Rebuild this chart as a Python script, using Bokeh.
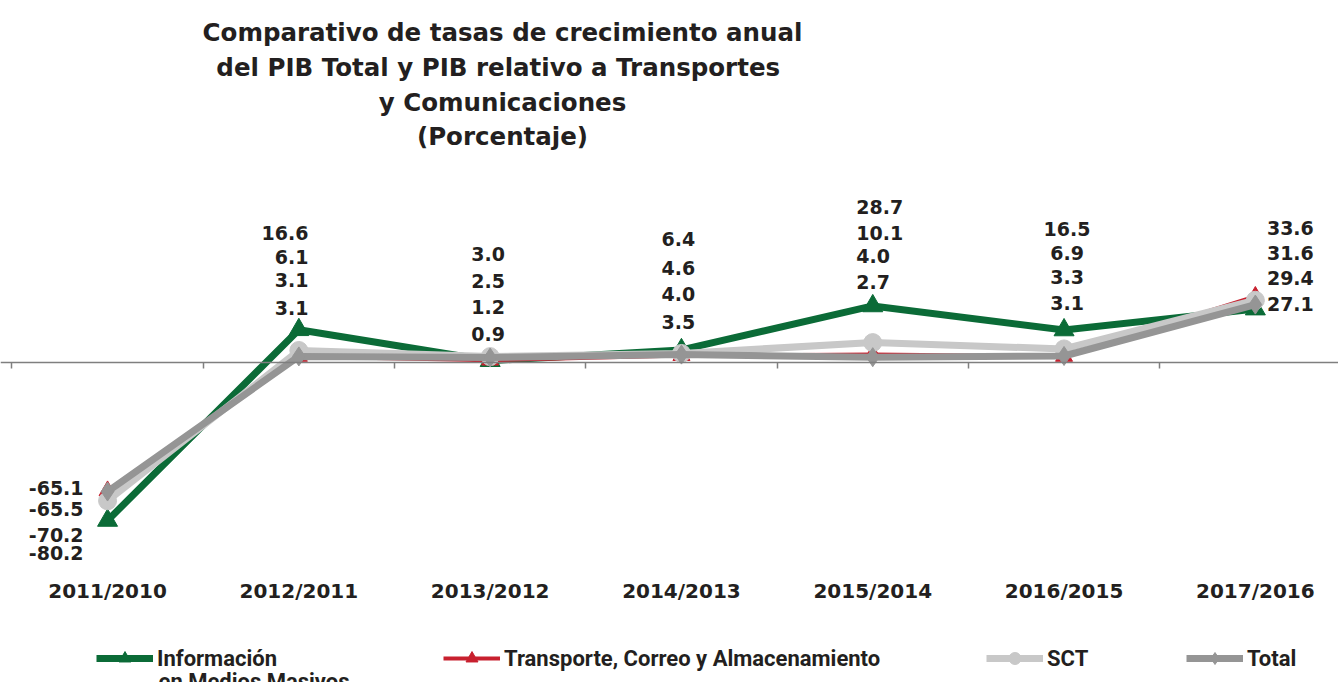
import numpy as np
from bokeh.plotting import figure
from bokeh.models import (Range1d, LinearAxis, FixedTicker, Legend, LegendItem,
                          ColumnDataSource, CustomJSTickFormatter)
from bokeh.core.properties import value
from bokeh.embed import file_html
from bokeh.resources import INLINE

# ---------------- data ----------------
categories = ["2011/2010", "2012/2011", "2013/2012", "2014/2013",
              "2015/2014", "2016/2015", "2017/2016"]
informacion = [-80.2, 16.6, 0.9, 6.4, 28.7, 16.5, 27.1]
transporte = [-65.1, 3.1, 1.2, 3.5, 4.0, 3.1, 33.6]
sct = [-70.2, 6.1, 3.0, 4.6, 10.1, 6.9, 31.6]
total = [-65.5, 3.1, 2.5, 4.0, 2.7, 3.3, 29.4]
series_names = ["Información", "Transporte, Correo y Almacenamiento", "SCT", "Total"]
series_name_extra = "en Medios Masivos"
title_lines = ["Comparativo de tasas de crecimiento anual",
               "del PIB Total y PIB  relativo a Transportes",
               "y Comunicaciones",
               "(Porcentaje)"]

# ---------------- layout (pixels) ----------------
W, H = 1338, 682
X0_PX, DX_PX = 11.4, 191.3      # first category boundary, px per category
Y0_PX, DY_PX = 362.0, 1.97      # zero line, px per unit

def xd(px):
    return (px - X0_PX) / DX_PX

def yd(py):
    return (Y0_PX - py) / DY_PX

TXT = "#231f20"
FONT = "DejaVu Sans"
LFONT = "Roboto"

p = figure(width=W, height=H, output_backend="svg", toolbar_location=None,
           x_range=Range1d(xd(0), xd(W)), y_range=Range1d(yd(H), yd(0)),
           x_axis_location=None, y_axis_location=None, min_border=0,
           outline_line_color=None, background_fill_color="white",
           border_fill_color="white")
p.grid.visible = False

xs = np.arange(len(categories)) + 0.5

# axis at zero: line, boundary ticks (minor), category labels far below
ax = LinearAxis(fixed_location=0,
                ticker=FixedTicker(ticks=list(xs), minor_ticks=list(range(len(categories) + 1))),
                formatter=CustomJSTickFormatter(args=dict(cats=categories),
                                                code="return cats[Math.floor(tick)] || ''"),
                axis_line_color="#7f7f7f", axis_line_width=1.5,
                major_tick_line_color=None, major_tick_in=0, major_tick_out=0,
                minor_tick_line_color="#7f7f7f", minor_tick_line_width=1.5,
                minor_tick_in=0, minor_tick_out=6,
                major_label_standoff=210,
                major_label_text_font=FONT, major_label_text_font_style="bold",
                major_label_text_font_size="20px", major_label_text_color=TXT)
p.add_layout(ax, "below")

# ---------------- series ----------------
specs = [
    (informacion, "#0b6b37", 7, "triangle", 20),
    (transporte, "#c8202e", 4, "triangle", 17),
    (sct, "#c8c8c8", 7, "circle", 18),
    (total, "#959595", 7, "diamond", 19),
]
renderers = []
for vals, col, lw, mk, sz in specs:
    src = ColumnDataSource(dict(x=xs, y=vals))
    l = p.line("x", "y", source=src, line_color=col, line_width=lw)
    s = p.scatter("x", "y", source=src, marker=mk, size=sz,
                  fill_color=col, line_color=col)
    renderers.append([l, s])

# ---------------- data labels (stacked, sorted descending) ----------------
label_py = [[487, 508, 534, 552], [232, 256, 279, 307], [253, 280, 306, 333],
            [238, 267, 293, 321], [206, 232, 255, 281], [228, 252, 276, 302],
            [227, 252, 277, 303]]
label_dx = [-24, 9.5, -2, -3, -16.5, 3, 35]
label_align = ["right", "right", "center", "center", "left", "center", "center"]

allvals = np.array([informacion, transporte, sct, total])
groups = {}
for k in range(len(categories)):
    col_vals = sorted(allvals[:, k], reverse=True)
    g = groups.setdefault(label_align[k], dict(x=[], y=[], t=[]))
    for j, v in enumerate(col_vals):
        g["x"].append(xs[k] + label_dx[k] / DX_PX)
        g["y"].append(yd(label_py[k][j]))
        g["t"].append(f"{v:.1f}")
for al, g in groups.items():
    p.text(x="x", y="y", text="t", source=ColumnDataSource(g), text_align=al,
           text_baseline="middle", text_font=value(FONT), text_font_style="bold",
           text_font_size="19px", text_color=TXT)

# ---------------- title ----------------
title_py = [32, 67, 102, 136]
p.text(x=[xd(502)] * len(title_lines), y=[yd(v) for v in title_py], text=title_lines,
       text_align="center", text_baseline="middle", text_font=value(FONT),
       text_font_style="bold", text_font_size="24.5px", text_color=TXT)

# ---------------- legends ----------------
legend_x = [96, 443, 986, 1186]
for name, rs, lx in zip(series_names, renderers, legend_x):
    lg = Legend(items=[LegendItem(label=name, renderers=rs)], location=(lx, H - 673),
                orientation="horizontal", glyph_width=57, glyph_height=30,
                label_height=30, label_standoff=4, padding=0, margin=0,
                border_line_color=None, background_fill_alpha=0,
                label_text_font=LFONT, label_text_font_style="bold",
                label_text_font_size="22px", label_text_color=TXT)
    p.add_layout(lg, "center")

p.text(x=[xd(158)], y=[yd(681)], text=[series_name_extra], text_align="left",
       text_baseline="middle", text_font=value(LFONT), text_font_style="bold",
       text_font_size="22px", text_color=TXT)

open("out.html", "w").write(file_html(p, INLINE))
